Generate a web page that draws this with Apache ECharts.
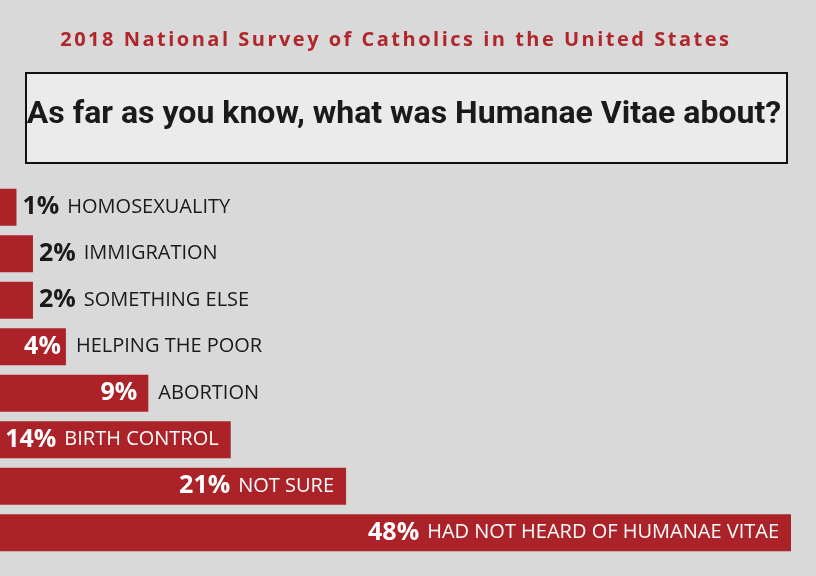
<!DOCTYPE html>
<html lang="en">
<head>
    <meta charset="UTF-8">
    <title>Humanae Vitae</title>
    <script src="https://cdn.jsdelivr.net/npm/echarts@6/dist/echarts.min.js"></script>
    <style>
        html, body { margin: 0; padding: 0; background: #d9d9d9; }
        #chart { width: 816px; height: 576px; }
    </style>
</head>
<body>
    <div id="chart"></div>
</body>
<script>
    var categories = ['HOMOSEXUALITY', 'IMMIGRATION', 'SOMETHING ELSE', 'HELPING THE POOR',
        'ABORTION', 'BIRTH CONTROL', 'NOT SURE', 'HAD NOT HEARD OF HUMANAE VITAE'];
    var values = [1, 2, 2, 4, 9, 14, 21, 48];

    var titleText = '2018 National Survey of Catholics in the United States';
    var questionText = 'As far as you know, what was Humanae Vitae about?';

    var red = '#ab2328';
    var dark = '#1a1a1a';

    // small bars: everything outside, mid bars: % inside + name outside, big bars: all inside
    var barData = values.map(function (v, i) {
        var label;
        if (v <= 2) {
            label = {
                show: true, position: 'right', distance: 6,
                formatter: '{pb|' + v + '%}{cb|' + categories[i] + '}'
            };
        } else if (v < 10) {
            label = {
                show: true, position: 'insideRight', distance: v < 5 ? 5 : 11,
                formatter: '{pw|' + v + '%}'
            };
        } else {
            label = {
                show: true, position: 'insideRight', distance: 12,
                formatter: '{pw|' + v + '%}' + '{cw|' + categories[i] + '}'
            };
        }
        return { value: v, label: label };
    });

    var nameData = values.map(function (v, i) {
        var show = v > 2 && v < 10;
        return {
            value: v,
            label: {
                show: show, position: 'right', distance: 2,
                formatter: '{cb|' + categories[i] + '}'
            }
        };
    });

    var rich = {
        pb: { fontFamily: 'Open Sans', fontWeight: 'bold', fontSize: 25, color: dark },
        pw: { fontFamily: 'Open Sans', fontWeight: 'bold', fontSize: 25, color: '#fff' },
        cb: { fontFamily: 'Open Sans', fontSize: 20, color: dark, padding: [0, 0, 0, 8] },
        cw: { fontFamily: 'Open Sans', fontSize: 20, color: '#fff', padding: [0, 0, 0, 8] }
    };

    // the header is letter-spaced: one rich token per character
    var spaced = titleText.split('').map(function (ch) {
        return '{s|' + ch + '}';
    }).join('');

    var my = echarts.init(document.getElementById('chart'));

    var option = {
        backgroundColor: '#d9d9d9',
        animation: false,
        title: {
            text: spaced,
            left: 54,
            top: 25,
            textStyle: {
                rich: {
                    s: {
                        color: '#b0262b',
                        fontFamily: 'Open Sans',
                        fontWeight: 'bold',
                        fontSize: 20,
                        padding: [0, 1.25]
                    }
                }
            }
        },
        graphic: [
            {
                type: 'rect',
                shape: { x: 26, y: 73, width: 761, height: 90 },
                style: { fill: '#ebebeb', stroke: '#111', lineWidth: 2 }
            },
            {
                type: 'text',
                x: 404,
                y: 115,
                style: {
                    text: questionText,
                    fill: '#1a1a1a',
                    font: 'bold 32px Roboto',
                    align: 'center',
                    verticalAlign: 'middle'
                }
            }
        ],
        grid: { left: 0, right: 25, top: 184, bottom: 20 },
        xAxis: { type: 'value', min: 0, max: 48, show: false },
        yAxis: {
            type: 'category',
            data: categories,
            inverse: true,
            show: false
        },
        series: [
            {
                type: 'bar',
                data: barData,
                barWidth: 37,
                itemStyle: { color: red },
                label: { rich: rich }
            },
            {
                type: 'bar',
                data: nameData,
                barWidth: 37,
                barGap: '-100%',
                itemStyle: { color: 'rgba(0,0,0,0)' },
                label: { rich: rich },
                silent: true
            }
        ]
    };

    my.setOption(option);
</script>
</html>
